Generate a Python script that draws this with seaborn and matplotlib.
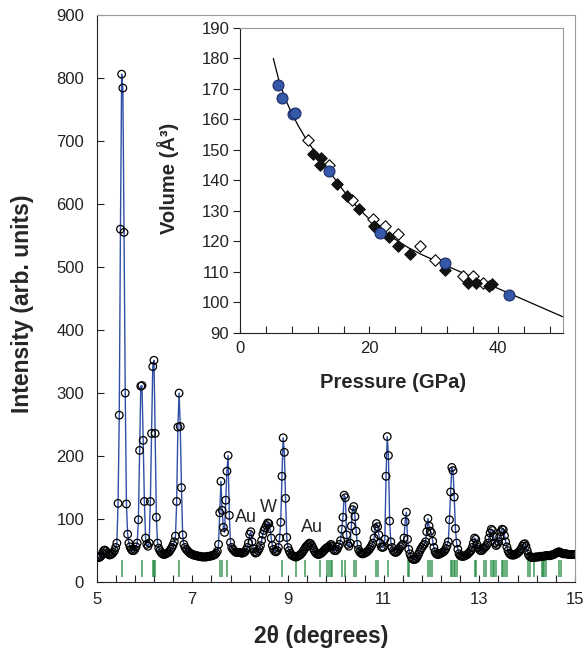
import numpy as np
import pandas as pd
import matplotlib
matplotlib.use('Agg')
import matplotlib.pyplot as plt
import seaborn as sns

# ---- powder pattern: 2theta scan 5 -> 15 deg, step 0.025 deg ----
tth_start = 5.0
tth_step = 0.025
intensity = [
    40, 40, 39, 40, 42, 46, 50, 51, 49, 46, 44, 43, 44, 45, 47, 50, 55, 62, 125, 265,       # 5.0
    560, 806, 784, 555, 300, 124, 76, 62, 56, 52, 50, 50, 52, 56, 62, 99, 209, 311, 312, 225,  # 5.5
    128, 70, 60, 57, 62, 128, 236, 342, 352, 236, 103, 62, 54, 50, 47, 45, 44, 44, 45, 46,   # 6.0
    47, 49, 52, 55, 59, 64, 73, 128, 246, 300, 247, 150, 75, 60, 55, 52, 50, 48, 46, 45,     # 6.5
    44, 43, 43, 42, 42, 41, 41, 41, 40, 40, 40, 40, 40, 41, 41, 41, 42, 42, 43, 44,         # 7.0
    46, 49, 60, 110, 160, 114, 87, 79, 130, 176, 201, 106, 63, 55, 52, 50, 48, 47, 47, 47,   # 7.5
    47, 46, 46, 47, 48, 51, 55, 62, 76, 80, 64, 53, 48, 46, 47, 50, 53, 58, 66, 76,         # 8.0
    82, 86, 90, 94, 93, 85, 70, 58, 52, 49, 48, 50, 55, 70, 95, 168, 229, 206, 133, 71,     # 8.5
    55, 50, 46, 43, 42, 41, 40, 40, 41, 42, 43, 45, 47, 50, 53, 56, 58, 60, 62, 61,         # 9.0
    58, 54, 50, 47, 45, 44, 44, 45, 46, 48, 50, 52, 54, 55, 56, 58, 60, 57, 52, 50,         # 9.5
    50, 52, 56, 60, 66, 84, 103, 138, 134, 75, 60, 57, 62, 89, 115, 120, 104, 81, 60, 52,   # 10.0
    48, 46, 45, 45, 46, 47, 48, 50, 52, 55, 58, 62, 70, 85, 93, 88, 75, 62, 56, 55,         # 10.5
    56, 68, 168, 231, 201, 97, 64, 55, 50, 48, 47, 48, 50, 53, 56, 58, 60, 70, 96, 111,     # 11.0
    68, 52, 45, 40, 37, 36, 36, 37, 40, 44, 48, 52, 55, 58, 60, 64, 80, 101, 89, 81,        # 11.5
    78, 65, 55, 48, 45, 44, 44, 45, 46, 47, 48, 50, 53, 58, 64, 99, 143, 182, 177, 135,     # 12.0
    85, 62, 52, 45, 42, 41, 41, 41, 42, 43, 44, 46, 48, 50, 55, 62, 70, 68, 60, 55,         # 12.5
    52, 50, 50, 52, 54, 56, 58, 62, 70, 78, 84, 82, 72, 62, 58, 60, 64, 72, 80, 84,         # 13.0
    83, 74, 64, 56, 50, 46, 44, 43, 43, 43, 44, 45, 46, 48, 50, 53, 57, 60, 61, 57,         # 13.5
    50, 44, 41, 40, 39, 39, 39, 40, 40, 40, 40, 41, 41, 41, 41, 42, 42, 42, 42, 42,         # 14.0
    43, 43, 44, 45, 46, 47, 48, 48, 47, 46, 45, 45, 45, 45, 44, 44, 44, 44, 44, 44,         # 14.5
    44,                                                                                     # 15.0
]
tth = tth_start + tth_step * np.arange(len(intensity))
xrd = pd.DataFrame({'tth': tth, 'intensity': intensity})

# calculated reflection positions (green ticks)
reflections = [5.54, 5.96, 6.19, 6.21, 6.23, 6.72, 7.59, 7.62, 7.73, 8.88, 9.16, 9.35,
               9.68, 9.82, 9.86, 9.89, 9.92, 10.14, 10.19, 10.39, 10.43, 10.84, 10.88,
               11.09, 11.50, 11.54, 11.93, 11.96, 12.02, 12.40, 12.43, 12.46, 12.49,
               12.53, 12.90, 12.94, 13.10, 13.14, 13.25, 13.28, 13.31, 13.35, 13.47,
               13.50, 13.53, 13.58, 14.02, 14.06, 14.14, 14.30, 14.33, 14.36, 14.39,
               14.66, 14.71]

# impurity labels
phase_text = ['Au', 'W', 'Au']
phase_x = [8.13, 8.59, 9.51]
phase_y = [103, 119, 86]

# ---- inset: P-V data ----
p_this = [5.8, 6.5, 8.1, 8.5, 13.7, 21.7, 31.7, 41.6]
v_this = [171.3, 167.0, 161.7, 162.0, 143.2, 122.7, 112.8, 102.4]

p_filled = [11.2, 12.5, 12.4, 15.0, 16.5, 18.4, 20.7, 21.0, 23.0, 24.5, 26.3,
            31.7, 35.3, 36.6, 38.6, 39.0]
v_filled = [148.7, 147.3, 144.9, 138.7, 135.0, 130.5, 125.1, 124.3, 121.6, 118.6,
            115.9, 110.7, 106.5, 106.5, 105.5, 106.0]

p_open = [10.5, 13.7, 17.3, 20.5, 22.5, 24.5, 27.8, 30.2, 34.5, 36.1, 37.7]
v_open = [153.3, 145.0, 133.6, 127.4, 125.1, 122.4, 118.6, 114.0, 108.7, 108.7, 106.5]

p_fit = [5.1, 6, 7, 8, 9, 10, 11, 12, 14, 16, 18, 20, 22, 24, 26, 28, 30, 32, 35,
         38, 42, 46, 50]
v_fit = [180, 172.5, 166.5, 161.8, 157.8, 154.2, 151.0, 148.0, 142.3, 136.6, 131.5,
         127.3, 123.8, 120.7, 118.0, 115.8, 113.9, 112.0, 109.2, 106.4, 102.7, 99.0, 95.3]

sns.set_style('ticks')
plt.rcParams['font.family'] = ['Liberation Sans', 'DejaVu Sans']

fig = plt.figure(figsize=(5.85, 6.49), dpi=100)
ax = fig.add_axes([0.165, 0.103, 0.818, 0.874])

blue = '#2f4ea6'
sns.lineplot(data=xrd, x='tth', y='intensity', ax=ax, color=blue, linewidth=1.0, zorder=2)
sns.scatterplot(data=xrd, x='tth', y='intensity', ax=ax, marker='o', s=30,
                facecolor='none', edgecolor='black', linewidth=0.9, zorder=3)
ax.vlines(reflections, 8, 35, colors='#1d8a3e', linewidth=1.1, alpha=0.85, zorder=1)

for t, x, y in zip(phase_text, phase_x, phase_y):
    ax.text(x, y, t, fontsize=13, ha='center', va='center', zorder=4)

ax.set_xlim(5, 15)
ax.set_ylim(0, 900)
xt = np.arange(0, 26) * 0.4 + 5
ax.set_xticks(xt)
ax.set_xticklabels([f'{t:g}' if k % 5 == 0 else '' for k, t in enumerate(xt)])
ax.set_yticks(range(0, 901, 100))
ax.tick_params(direction='in', length=5, width=0.8, labelsize=12, colors='#222222')
ax.tick_params(axis='y', pad=9)
ax.tick_params(axis='x', pad=7)
for side in ['left', 'bottom']:
    ax.spines[side].set_color('#222222')
for side in ['top', 'right']:
    ax.spines[side].set_color('#9a9a9a')
ax.set_xlabel('2θ (degrees)', fontsize=16.5, fontweight='bold')
ax.set_ylabel('Intensity (arb. units)', fontsize=16.5, fontweight='bold')
ax.xaxis.set_label_coords(0.47, -0.075)
ax.yaxis.set_label_coords(-0.13, 0.49)

# inset
axi = fig.add_axes([0.411, 0.487, 0.551, 0.470])
sns.lineplot(x=p_fit, y=v_fit, ax=axi, color='black', linewidth=0.9, sort=False, zorder=2)
sns.scatterplot(x=p_open, y=v_open, ax=axi, marker='D', s=34, facecolor='white',
                edgecolor='black', linewidth=0.8, zorder=3)
sns.scatterplot(x=p_filled, y=v_filled, ax=axi, marker='D', s=34, color='#111111',
                edgecolor='#111111', linewidth=0.8, zorder=4)
sns.scatterplot(x=p_this, y=v_this, ax=axi, marker='o', s=62, color='#3558a8',
                edgecolor='#1c2c66', linewidth=0.8, zorder=5)

axi.set_xlim(0, 50)
axi.set_ylim(90, 190)
pt = list(range(0, 49, 4))
axi.set_xticks(pt)
axi.set_xticklabels([str(t) if t % 20 == 0 else '' for t in pt])
axi.set_yticks(range(90, 191, 10))
axi.tick_params(axis='x', direction='in', length=5, width=0.8, labelsize=12, colors='#222222', pad=6)
axi.tick_params(axis='y', direction='out', length=5, width=0.8, labelsize=12, colors='#222222', pad=3)
for side in ['left', 'bottom']:
    axi.spines[side].set_color('#222222')
for side in ['top', 'right']:
    axi.spines[side].set_color('#9a9a9a')
axi.set_xlabel('Pressure (GPa)', fontsize=14.5, fontweight='bold')
axi.set_ylabel('Volume (Å³)', fontsize=14.5, fontweight='bold')
axi.xaxis.set_label_coords(0.475, -0.13)
axi.yaxis.set_label_coords(-0.19, 0.508)

fig.savefig('out.png', dpi=100)
